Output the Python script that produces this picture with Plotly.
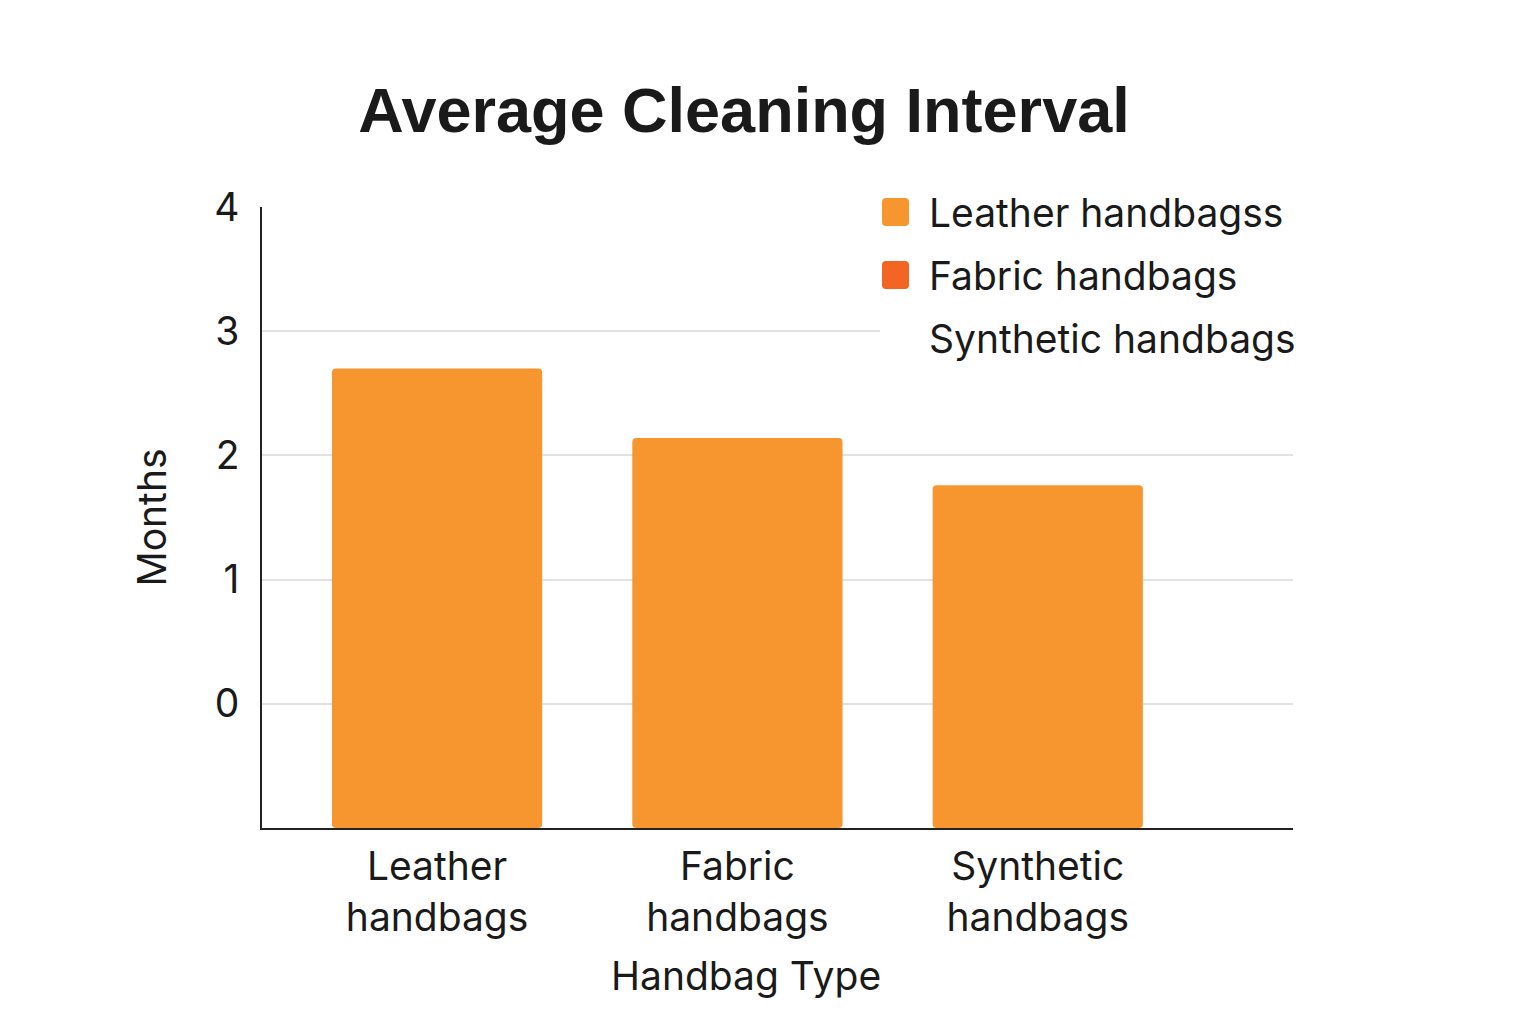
import plotly.graph_objects as go

categories = ["Leather<br>handbags", "Fabric<br>handbags", "Synthetic<br>handbags"]
months = [2.70, 2.14, 1.76]
axis_floor = -1
ytick_vals = [0, 1, 2, 3, 4]
x_title = "Handbag Type"
y_title = "Months"
legend_names = ["Leather handbagss", "Fabric handbags", "Synthetic handbags"]
legend_colors = ["#F7962F", "#F26522", None]

FONT = "Inter, Roboto, sans-serif"
TXT = "#1a1a1a"
FS = 39

# page offset (body margin) compensation
OFF = 8
PL, PR, PT, PB = 262 - OFF, 1293 - OFF, 207 - OFF, 828 - OFF
PW, PH = PR - PL, PB - PT


def px(xs):
    return (xs - OFF - PL) / PW


def py(ys):
    return (PB - (ys - OFF)) / PH


fig = go.Figure()
fig.add_trace(go.Bar(
    x=categories,
    y=[v - axis_floor for v in months],
    base=axis_floor,
    width=0.70,
    marker=dict(color="#F7962F", line=dict(width=0), cornerradius=4),
    showlegend=False,
    hoverinfo="skip",
))

fig.update_layout(
    width=1536, height=1024,
    paper_bgcolor="white", plot_bgcolor="white",
    margin=dict(l=PL, r=1536 - PR, t=PT, b=1024 - PB),
    font=dict(family=FONT, color=TXT, size=FS),
    title=dict(text="<b>Average Cleaning Interval</b>", x=(744 - OFF) / 1536, xanchor="center",
               y=1 - (110 - OFF) / 1024, yanchor="middle",
               font=dict(family="Liberation Sans, Arial, sans-serif", size=63, color=TXT)),
    showlegend=False,
)

fig.update_xaxes(
    range=[-0.583, 2.85],
    showline=True, linecolor="#222222", linewidth=2,
    showgrid=False, ticks="", ticklabelstandoff=3,
    tickfont=dict(size=FS, family=FONT, color=TXT),
)
fig.update_yaxes(
    range=[axis_floor, 4],
    tickvals=ytick_vals,
    showline=True, linecolor="#222222", linewidth=1.5,
    showgrid=True, gridcolor="#e2e2e2", gridwidth=1.5,
    zeroline=False,
    ticks="", ticklabelstandoff=13,
    tickfont=dict(size=FS, family=FONT, color=TXT),
    title=dict(text=y_title, font=dict(size=FS, family=FONT, color=TXT), standoff=36),
)

# x axis title, centred as in the reference
fig.add_annotation(text=x_title, xref="paper", yref="paper",
                   x=px(746), y=py(975), xanchor="center", yanchor="middle",
                   showarrow=False, font=dict(size=FS, family=FONT, color=TXT))

# white legend backdrop interrupting gridlines
fig.add_shape(type="rect", xref="paper", yref="paper", layer="above",
              x0=px(845), x1=1.03, y0=py(222), y1=py(200),
              fillcolor="white", line=dict(width=0))
fig.add_shape(type="rect", xref="paper", yref="paper", layer="above",
              x0=px(880), x1=1.03, y0=py(350), y1=py(222),
              fillcolor="white", line=dict(width=0))


def rounded_rect(x0, y0, x1, y1, r):
    pts = lambda x, y: f"{px(x):.5f},{py(y):.5f}"
    return (f"M{pts(x0 + r, y0)} L{pts(x1 - r, y0)} Q{pts(x1, y0)} {pts(x1, y0 + r)} "
            f"L{pts(x1, y1 - r)} Q{pts(x1, y1)} {pts(x1 - r, y1)} L{pts(x0 + r, y1)} "
            f"Q{pts(x0, y1)} {pts(x0, y1 - r)} L{pts(x0, y0 + r)} Q{pts(x0, y0)} {pts(x0 + r, y0)} Z")


row_y = [212, 275, 338]
for name, col, ry in zip(legend_names, legend_colors, row_y):
    if col is not None:
        fig.add_shape(type="path", xref="paper", yref="paper", layer="above",
                      path=rounded_rect(882, ry - 14, 909, ry + 14, 4),
                      fillcolor=col, line=dict(width=0))
    fig.add_annotation(text=name, xref="paper", yref="paper",
                       x=px(927), y=py(ry),
                       xanchor="left", yanchor="middle", showarrow=False,
                       font=dict(size=FS, family=FONT, color=TXT))

fig.write_html("out.html")
